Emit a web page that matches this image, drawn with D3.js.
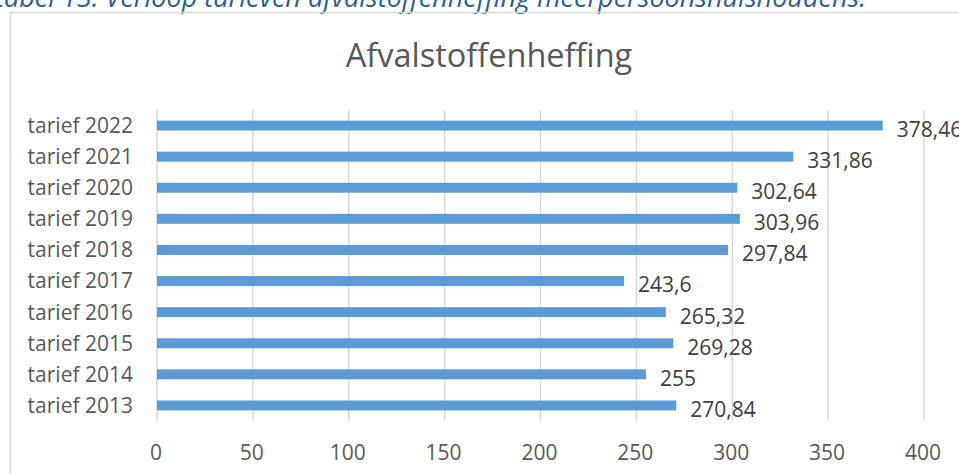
<!DOCTYPE html>
<html>
<head>
<meta charset="utf-8">
<script src="https://cdn.jsdelivr.net/npm/d3@7"></script>
<style>
    body { margin: 0; background: #fff; }
    svg { display: block; font-family: "Open Sans", sans-serif; }
</style>
</head>
<body>
<div id="chart"></div>
<script>
    // data
    const categories = ["tarief 2013", "tarief 2014", "tarief 2015", "tarief 2016", "tarief 2017",
                        "tarief 2018", "tarief 2019", "tarief 2020", "tarief 2021", "tarief 2022"];
    const values = [270.84, 255, 269.28, 265.32, 243.6, 297.84, 303.96, 302.64, 331.86, 378.46];
    const valueLabels = ["270,84", "255", "269,28", "265,32", "243,6", "297,84", "303,96", "302,64", "331,86", "378,46"];
    const xTicks = [0, 50, 100, 150, 200, 250, 300, 350, 400];
    const captionText = "tabel 13: Verloop tarieven afvalstoffenheffing meerpersoonshuishoudens.";
    const titleText = "Afvalstoffenheffing";

    let width = 959;
    let height = 474;
    let plot = { left: 157, right: 924, top: 110, bottom: 421 };

    let svg = d3.select("#chart").append("svg")
        .attr("width", width)
        .attr("height", height);

    // caption above the chart (cut off at the top, like the source page)
    svg.append("text")
        .attr("x", -5)
        .attr("y", 7)
        .attr("fill", "#2E5F94")
        .style("font-style", "italic")
        .style("font-size", "27px")
        .text(captionText);

    // chart frame
    svg.append("rect")
        .attr("x", 10.5)
        .attr("y", 12.5)
        .attr("width", 960)
        .attr("height", 480)
        .attr("fill", "none")
        .attr("stroke", "#D9D9D9")
        .attr("stroke-width", 1.5);

    svg.append("text")
        .attr("x", 489)
        .attr("y", 67)
        .attr("text-anchor", "middle")
        .attr("fill", "#595959")
        .style("font-size", "32.5px")
        .text(titleText);

    let x = d3.scaleLinear()
        .domain([0, 400])
        .range([plot.left, plot.right]);

    let y = d3.scaleBand()
        .domain(categories.slice().reverse())
        .range([plot.top, plot.bottom])
        .paddingInner(0.68)
        .paddingOuter(0.34);

    // gridlines
    svg.append("g")
        .selectAll("line")
        .data(xTicks)
        .enter().append("line")
        .attr("x1", d => x(d))
        .attr("x2", d => x(d))
        .attr("y1", plot.top)
        .attr("y2", plot.bottom)
        .attr("stroke", "#D9D9D9")
        .attr("stroke-width", 1.5);

    // x tick labels
    svg.append("g")
        .selectAll("text")
        .data(xTicks)
        .enter().append("text")
        .attr("x", d => x(d) - 1)
        .attr("y", 460)
        .attr("text-anchor", "middle")
        .attr("fill", "#595959")
        .style("font-size", "21px")
        .text(d => d);

    // category labels
    svg.append("g")
        .selectAll("text")
        .data(categories)
        .enter().append("text")
        .attr("x", 133)
        .attr("y", d => y(d) + y.bandwidth() / 2)
        .attr("dy", "0.35em")
        .attr("text-anchor", "end")
        .attr("fill", "#595959")
        .style("font-size", "21px")
        .text(d => d);

    // bars
    svg.append("g")
        .selectAll("rect")
        .data(values)
        .enter().append("rect")
        .attr("x", x(0))
        .attr("y", (d, i) => y(categories[i]))
        .attr("width", d => x(d) - x(0))
        .attr("height", y.bandwidth())
        .attr("fill", "#5B9BD5");

    // value labels
    svg.append("g")
        .selectAll("text")
        .data(values)
        .enter().append("text")
        .attr("x", d => x(d) + 14)
        .attr("y", (d, i) => y(categories[i]) + y.bandwidth() / 2 + 4)
        .attr("dy", "0.35em")
        .attr("fill", "#404040")
        .style("font-size", "21px")
        .text((d, i) => valueLabels[i]);
</script>
</body>
</html>
